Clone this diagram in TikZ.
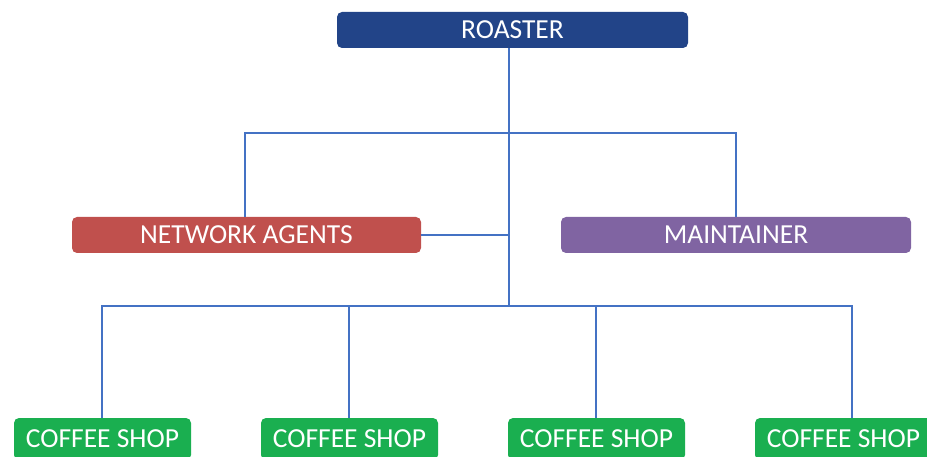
\documentclass[tikz,border=0pt]{standalone}
\usepackage{fontspec}
\setmainfont{Carlito}
\definecolor{cline}{HTML}{4472C4}
\definecolor{cblue}{HTML}{224488}
\definecolor{cred}{HTML}{C0504D}
\definecolor{cpurple}{HTML}{8064A2}
\definecolor{cgreen}{HTML}{1AAF50}
\begin{document}
\begin{tikzpicture}[x=1pt,y=-1pt,
  box/.style={rounded corners=5pt, inner sep=0pt, text=white, font=\fontsize{27.5}{27.5}\selectfont, text height=17.5pt, text depth=0pt},
  conn/.style={draw=cline, line width=1.6pt}]
\useasboundingbox (0,0) rectangle (927,457);
\clip (0,0) rectangle (927,457);
\node[box, fill=cblue, minimum width=351pt, minimum height=36pt] (roaster) at (512.5,30) {ROASTER};
\node[box, fill=cred, minimum width=349pt, minimum height=36pt] (na) at (246.5,235) {NETWORK AGENTS};
\node[box, fill=cpurple, minimum width=350pt, minimum height=36pt] (mt) at (736,235) {MAINTAINER};
\node[box, fill=cgreen, minimum width=177pt, minimum height=42pt] (cs1) at (102.5,439) {COFFEE SHOP};
\node[box, fill=cgreen, minimum width=177pt, minimum height=42pt] (cs2) at (349.5,439) {COFFEE SHOP};
\node[box, fill=cgreen, minimum width=177pt, minimum height=42pt] (cs3) at (596.5,439) {COFFEE SHOP};
\node[box, fill=cgreen, minimum width=177pt, minimum height=42pt] (cs4) at (843.5,439) {COFFEE SHOP};
\coordinate (j1) at (509,133);
\coordinate (j2) at (509,306);
\coordinate (na-j) at (509,235);
\coordinate (l1) at (245,133);
\coordinate (c1) at (102,306);
\coordinate (c2) at (349,306);
\coordinate (c3) at (596,306);
\coordinate (c4) at (852,306);
\draw[conn] (j1 |- roaster.south) -- (j2);
\draw[conn] (l1 |- na.north) -- (l1) -- (j1) -- (mt.north |- j1) -- (mt.north);
\draw[conn] (na.east) -- (na-j);
\draw[conn] (c1 |- cs1.north) -- (c1) -- (c4) -- (c4 |- cs4.north);
\draw[conn] (c2) -- (c2 |- cs2.north);
\draw[conn] (c3) -- (c3 |- cs3.north);
\end{tikzpicture}
\end{document}
